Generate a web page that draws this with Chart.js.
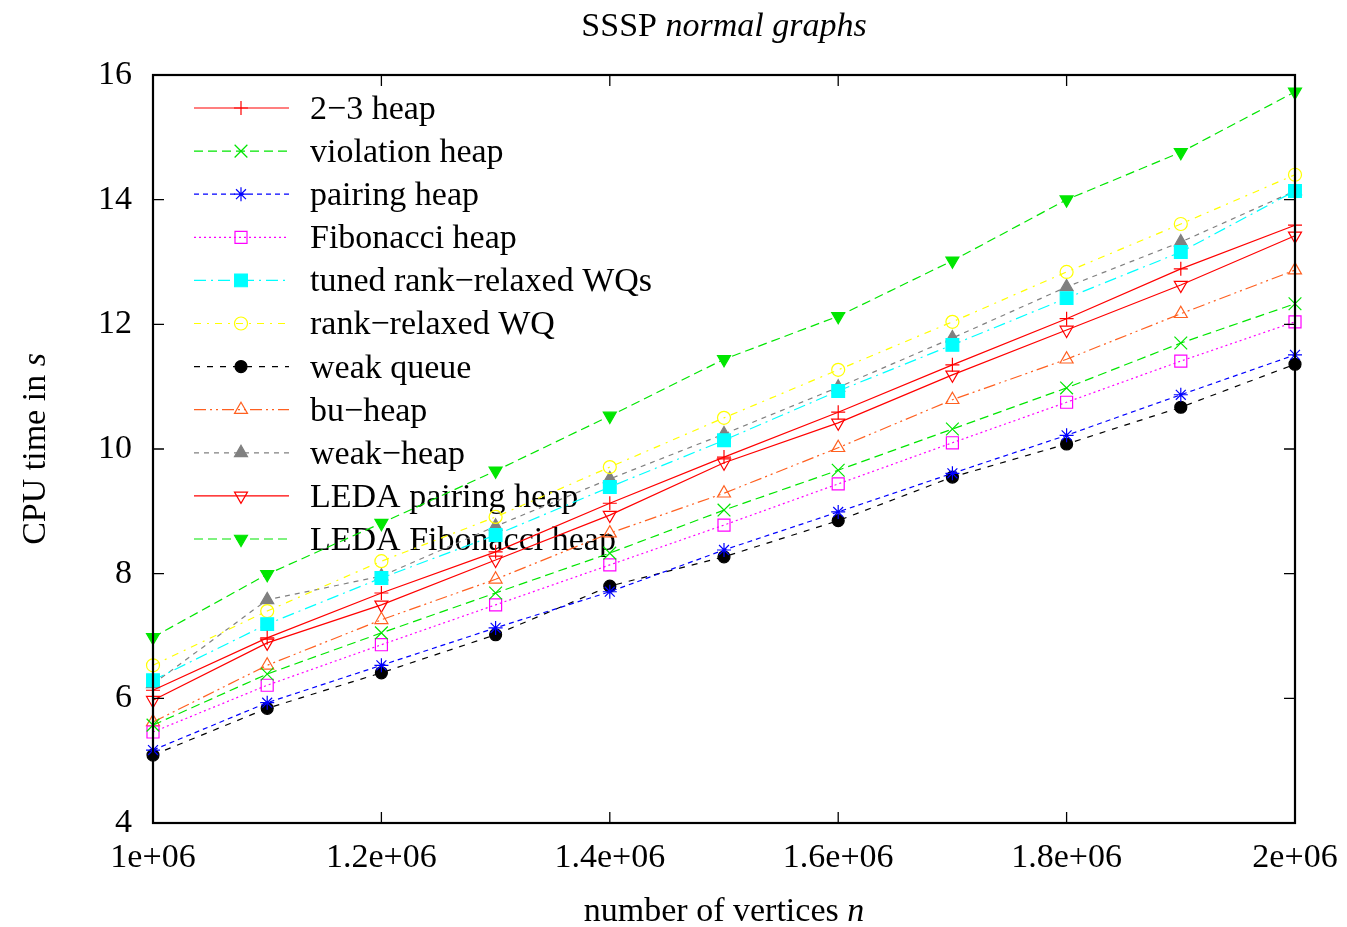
<!DOCTYPE html>
<html><head><meta charset="utf-8">
<script src="https://cdn.jsdelivr.net/npm/chart.js@4.4.1/dist/chart.umd.min.js"></script>
<style>html,body{margin:0;padding:0;background:#fff;overflow:hidden}#wrap{width:1347px;height:927px}</style>
</head><body><div id="wrap"><canvas id="c" width="1347" height="927"></canvas></div>
<script>
// ---- data ----
const vertices = [1000000, 1100000, 1200000, 1300000, 1400000, 1500000, 1600000, 1700000, 1800000, 1900000, 2000000];
const xTickLabels = ['1e+06', '1.2e+06', '1.4e+06', '1.6e+06', '1.8e+06', '2e+06'];
const yTickValues = [4, 6, 8, 10, 12, 14, 16];
const seriesNames = ['2\u22123 heap', 'violation heap', 'pairing heap', 'Fibonacci heap', 'tuned rank\u2212relaxed WQs',
  'rank\u2212relaxed WQ', 'weak queue', 'bu\u2212heap', 'weak\u2212heap', 'LEDA pairing heap', 'LEDA Fibonacci heap'];
const heap23 = [6.13, 6.97, 7.69, 8.35, 9.13, 9.87, 10.59, 11.35, 12.09, 12.89, 13.59];
const violationHeap = [5.57, 6.39, 7.05, 7.69, 8.33, 9.02, 9.66, 10.32, 10.98, 11.70, 12.33];
const pairingHeap = [5.17, 5.93, 6.53, 7.13, 7.71, 8.38, 8.99, 9.61, 10.22, 10.87, 11.51];
const fibonacciHeap = [5.46, 6.21, 6.86, 7.50, 8.14, 8.78, 9.44, 10.10, 10.75, 11.41, 12.04];
const tunedRankRelaxed = [6.29, 7.19, 7.93, 8.62, 9.39, 10.14, 10.93, 11.67, 12.42, 13.16, 14.14];
const rankRelaxed = [6.53, 7.40, 8.20, 8.91, 9.71, 10.50, 11.27, 12.04, 12.84, 13.61, 14.40];
const weakQueue = [5.09, 5.84, 6.41, 7.02, 7.80, 8.27, 8.85, 9.55, 10.08, 10.67, 11.36];
const buHeap = [5.62, 6.53, 7.26, 7.91, 8.65, 9.29, 10.02, 10.79, 11.44, 12.17, 12.87];
const weakHeap = [6.23, 7.58, 7.96, 8.76, 9.52, 10.24, 10.99, 11.78, 12.60, 13.32, 14.14];
const ledaPairing = [5.97, 6.89, 7.50, 8.22, 8.94, 9.78, 10.42, 11.19, 11.91, 12.63, 13.42];
const ledaFibonacci = [6.98, 7.99, 8.81, 9.65, 10.53, 11.44, 12.13, 13.02, 14.00, 14.76, 15.73];

const seriesValues = [heap23, violationHeap, pairingHeap, fibonacciHeap, tunedRankRelaxed, rankRelaxed,
  weakQueue, buHeap, weakHeap, ledaPairing, ledaFibonacci];

// ---- styles ----
const NONE = 'rgba(0,0,0,0)';
const styles = [
  {c:'#ff0000', dash:[], ps:'cross', r:7, fill:false},
  {c:'#00e600', dash:[9,5], ps:'crossRot', r:9, fill:false},
  {c:'#0000ff', dash:[5,4], ps:'star', r:7, fill:false},
  {c:'#ff00ff', dash:[2,3], ps:'rect', r:8.5, fill:false},
  {c:'#00ffff', dash:[12,5,2,5], ps:'rect', r:9, fill:true},
  {c:'#ffff00', dash:[7,6,2,6], ps:'circle', r:6.5, fill:false},
  {c:'#000000', dash:[6,7], ps:'circle', r:6, fill:true},
  {c:'#ff6020', dash:[12,4,2,4,2,4], ps:'triangle', r:7.5, fill:false},
  {c:'#808080', dash:[5,5], ps:'triangle', r:7.5, fill:true},
  {c:'#ff0000', dash:[], ps:'triangle', r:7.5, fill:false, rot:180},
  {c:'#00e600', dash:[9,5], ps:'triangle', r:7.5, fill:true, rot:180}
];

const FONT = "'Liberation Serif', 'Times New Roman', serif";
const FS = 34;

const datasets = seriesNames.map((name, i) => {
  const s = styles[i];
  return {
    label: name,
    data: vertices.map((x, j) => ({x: x, y: seriesValues[i][j]})),
    borderColor: s.c,
    borderWidth: 1.2,
    borderDash: s.dash,
    backgroundColor: s.fill ? s.c : NONE,
    pointStyle: s.ps,
    pointRadius: s.r,
    pointHoverRadius: s.r,
    pointRotation: s.rot || 0,
    pointBorderColor: s.c,
    pointBackgroundColor: s.fill ? s.c : NONE,
    pointBorderWidth: 1.2,
    showLine: true,
    fill: false,
    tension: 0,
    clip: false
  };
});

function drawMarker(ctx, ds, x, y) {
  ctx.save();
  ctx.setLineDash([]);
  ctx.strokeStyle = ds.pointBorderColor;
  ctx.fillStyle = ds.pointBackgroundColor;
  ctx.lineWidth = ds.pointBorderWidth;
  if (Chart.helpers && Chart.helpers.drawPoint) {
    Chart.helpers.drawPoint(ctx, {pointStyle: ds.pointStyle, rotation: ds.pointRotation, radius: ds.pointRadius, borderWidth: ds.pointBorderWidth}, x, y);
  }
  ctx.restore();
}

const framePlugin = {
  id: 'frame',
  beforeDatasetsDraw(chart) {
    const ctx = chart.ctx;
    // legend (key)
    const x0 = 194, x1 = 289, xm = 241, xt = 310, y0 = 108, dy = 43.1;
    chart.data.datasets.forEach((ds, i) => {
      const y = y0 + i * dy;
      ctx.save();
      ctx.strokeStyle = ds.borderColor;
      ctx.lineWidth = ds.borderWidth;
      ctx.setLineDash(ds.borderDash);
      ctx.beginPath();
      ctx.moveTo(x0, y);
      ctx.lineTo(x1, y);
      ctx.stroke();
      ctx.restore();
      drawMarker(ctx, ds, xm, y);
      ctx.save();
      ctx.fillStyle = '#000';
      ctx.font = FS + 'px ' + FONT;
      ctx.textAlign = 'left';
      ctx.textBaseline = 'middle';
      ctx.fillText(ds.label, xt, y + 2);
      ctx.restore();
    });
  },
  afterDatasetsDraw(chart) {
    const ctx = chart.ctx;
    const a = chart.chartArea;
    const xs = chart.scales.x, ys = chart.scales.y;
    ctx.save();
    ctx.strokeStyle = '#000';
    ctx.setLineDash([]);
    ctx.lineWidth = 1.3;
    const tl = 11;
    ctx.beginPath();
    for (let k = 0; k < xTickLabels.length; k++) {
      const px = xs.getPixelForValue(vertices[0] + k * 200000);
      ctx.moveTo(px, a.bottom); ctx.lineTo(px, a.bottom - tl);
      ctx.moveTo(px, a.top); ctx.lineTo(px, a.top + tl);
    }
    yTickValues.forEach(v => {
      const py = ys.getPixelForValue(v);
      ctx.moveTo(a.left, py); ctx.lineTo(a.left + tl, py);
      ctx.moveTo(a.right, py); ctx.lineTo(a.right - tl, py);
    });
    ctx.stroke();
    ctx.lineWidth = 2.2;
    ctx.strokeRect(a.left, a.top, a.right - a.left, a.bottom - a.top);
    ctx.restore();
  },
  afterDraw(chart) {
    const ctx = chart.ctx;
    const a = chart.chartArea;
    const cx = (a.left + a.right) / 2;
    function mixed(parts, x, y) {
      let w = 0;
      parts.forEach(p => { ctx.font = (p[1] ? 'italic ' : '') + FS + 'px ' + FONT; w += ctx.measureText(p[0]).width; });
      let xx = x - w / 2;
      parts.forEach(p => {
        ctx.font = (p[1] ? 'italic ' : '') + FS + 'px ' + FONT;
        ctx.fillText(p[0], xx, y);
        xx += ctx.measureText(p[0]).width;
      });
    }
    ctx.save();
    ctx.fillStyle = '#000';
    ctx.textAlign = 'left';
    ctx.textBaseline = 'alphabetic';
    mixed([['SSSP ', false], ['normal graphs', true]], cx, 36);
    mixed([['number of vertices ', false], ['n', true]], cx, 921);
    ctx.translate(45, (a.top + a.bottom) / 2);
    ctx.rotate(-Math.PI / 2);
    mixed([['CPU time in ', false], ['s', true]], 0, 0);
    ctx.restore();
  }
};

new Chart(document.getElementById('c'), {
  type: 'scatter',
  data: { datasets: datasets },
  options: {
    responsive: false,
    devicePixelRatio: 1,
    animation: false,
    events: [],
    layout: { padding: { top: 75, right: 52, left: 0, bottom: 0 } },
    plugins: { legend: { display: false }, title: { display: false }, tooltip: { enabled: false } },
    scales: {
      x: {
        type: 'linear',
        min: vertices[0],
        max: vertices[vertices.length - 1],
        afterFit(s) { s.height = 104; s.paddingLeft = 0; s.paddingRight = 0; },
        afterBuildTicks(s) { s.ticks = xTickLabels.map((t, k) => ({ value: vertices[0] + k * 200000 })); },
        grid: { display: false, drawTicks: false },
        border: { display: false },
        ticks: {
          padding: 15,
          color: '#000',
          maxRotation: 0,
          autoSkip: false,
          font: { family: FONT, size: FS },
          callback: (v) => xTickLabels[Math.round((v - vertices[0]) / 200000)]
        }
      },
      y: {
        min: yTickValues[0],
        max: yTickValues[yTickValues.length - 1],
        afterFit(s) { s.width = 153; s.paddingTop = 0; s.paddingBottom = 0; },
        afterBuildTicks(s) { s.ticks = yTickValues.map(v => ({ value: v })); },
        grid: { display: false, drawTicks: false },
        border: { display: false },
        ticks: {
          padding: 21,
          color: '#000',
          font: { family: FONT, size: FS },
          callback: (v) => String(v)
        }
      }
    }
  },
  plugins: [framePlugin]
});
</script>
</body></html>
